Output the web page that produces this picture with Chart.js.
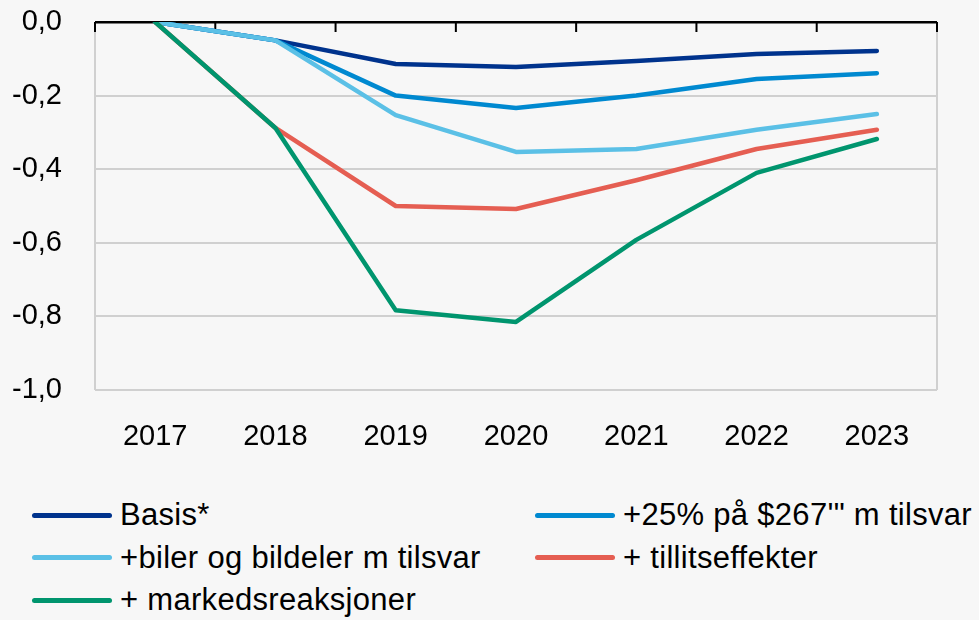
<!DOCTYPE html>
<html>
<head>
<meta charset="utf-8">
<script src="https://cdn.jsdelivr.net/npm/chart.js@4"></script>
<style>
  html, body { margin: 0; padding: 0; background: #f7f7f7; }
  #wrap { width: 979px; height: 620px; position: relative; font-family: "Liberation Sans", sans-serif; }
  #box { width: 979px; height: 470px; position: absolute; left: 0; top: 0; }
  #legend { position: absolute; left: 32px; top: 494px; display: grid; grid-template-columns: 503px 440px; row-gap: 0; }
  .item { display: flex; align-items: center; height: 42.5px; font-size: 31px; letter-spacing: 0.3px; color: #000; white-space: nowrap; }
  .swatch { width: 80px; height: 5px; border-radius: 3px; margin-right: 8px; }
</style>
</head>
<body>
<div id="wrap">
  <div id="box"><canvas id="myChart"></canvas></div>
  <div id="legend"></div>
</div>
<script>
const years = ['2017', '2018', '2019', '2020', '2021', '2022', '2023'];
const seriesNames = ['Basis*', "+25% på $267'\" m tilsvar", '+biler og bildeler m tilsvar', '+ tillitseffekter', '+ markedsreaksjoner'];
const basis = [0, -0.05, -0.114, -0.122, -0.106, -0.087, -0.079];
const toll25 = [0, -0.05, -0.20, -0.234, -0.20, -0.155, -0.139];
const biler = [0, -0.05, -0.253, -0.353, -0.345, -0.293, -0.25];
const tillit = [0, -0.288, -0.50, -0.508, -0.43, -0.345, -0.293];
const marked = [0, -0.288, -0.783, -0.815, -0.592, -0.41, -0.318];
const yTicks = [0, -0.2, -0.4, -0.6, -0.8, -1.0];
const lineColors = ['#00338d', '#0089d0', '#5bc0e6', '#e55e52', '#00956e'];

const allValues = [basis, toll25, biler, tillit, marked];
const gridGray = '#d0d0d0';

// small inward tick marks on the top (zero) axis, between categories
const topTicks = {
  id: 'topTicks',
  beforeDatasetsDraw(chart) {
    const x = chart.scales.x;
    const ctx = chart.ctx;
    const top = chart.chartArea.top;
    ctx.save();
    ctx.strokeStyle = '#000';
    ctx.lineWidth = 2;
    for (let i = 0; i <= years.length; i++) {
      let px;
      if (i === 0) px = chart.chartArea.left;
      else if (i === years.length) px = chart.chartArea.right;
      else px = (x.getPixelForTick(i - 1) + x.getPixelForTick(i)) / 2;
      ctx.beginPath();
      ctx.moveTo(px, top);
      ctx.lineTo(px, top + 10);
      ctx.stroke();
    }
    ctx.restore();
  }
};

const chart = new Chart('myChart', {
  type: 'line',
  data: {
    labels: years,
    datasets: allValues.map((vals, i) => ({
      label: seriesNames[i],
      data: vals,
      borderColor: lineColors[i],
      backgroundColor: lineColors[i],
      borderWidth: 4.5,
      borderCapStyle: 'round',
      borderJoinStyle: 'round',
      pointRadius: 0,
      tension: 0,
      order: allValues.length - i
    }))
  },
  options: {
    responsive: true,
    maintainAspectRatio: false,
    animation: false,
    layout: { padding: { top: 22, right: 42, left: 0, bottom: 0 } },
    plugins: {
      legend: { display: false },
      tooltip: { enabled: false }
    },
    scales: {
      x: {
        offset: true,
        afterFit(scale) { scale.height = 80; scale.paddingLeft = 0; scale.paddingRight = 0; },
        grid: {
          offset: true,
          drawTicks: false,
          lineWidth: 2,
          color: (c) => (c.type === 'tick' && c.index > 0) ? 'transparent' : gridGray
        },
        border: { display: false },
        ticks: {
          color: '#000',
          padding: 30,
          font: { family: 'Liberation Sans', size: 29 }
        }
      },
      y: {
        min: -1,
        max: 0,
        afterFit(scale) { scale.width = 95; scale.paddingTop = 0; scale.paddingBottom = 0; },
        afterBuildTicks(scale) { scale.ticks = yTicks.map(v => ({ value: v })); },
        grid: {
          drawTicks: false,
          lineWidth: (c) => Math.abs(c.tick ? c.tick.value : 1) < 1e-9 ? 2.5 : 2,
          color: (c) => (c.tick && Math.abs(c.tick.value) < 1e-9) ? '#000' : gridGray
        },
        border: { display: false },
        ticks: {
          color: '#000',
          padding: 33,
          font: { family: 'Liberation Sans', size: 29 },
          callback: (v) => v.toFixed(1).replace('.', ',')
        }
      }
    }
  },
  plugins: [topTicks]
});

const legend = document.getElementById('legend');
chart.data.datasets.forEach((ds) => {
  const item = document.createElement('div');
  item.className = 'item';
  const sw = document.createElement('span');
  sw.className = 'swatch';
  sw.style.background = ds.borderColor;
  const txt = document.createElement('span');
  txt.textContent = ds.label;
  item.appendChild(sw);
  item.appendChild(txt);
  legend.appendChild(item);
});
</script>
</body>
</html>
